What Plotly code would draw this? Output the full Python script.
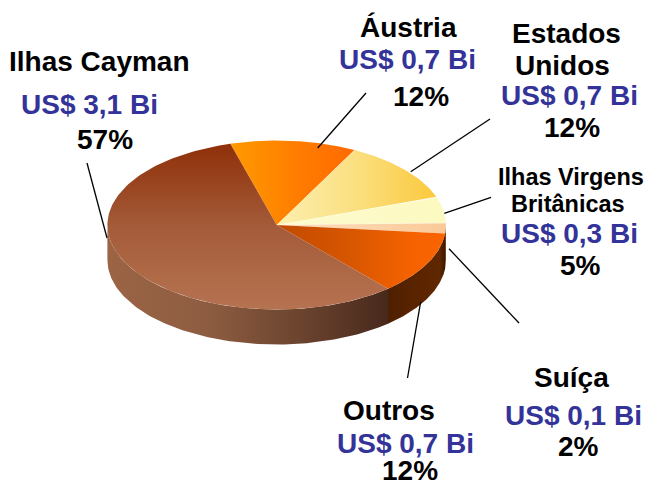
import numpy as np
import plotly.graph_objects as go

# --- data ---
names = ["Áustria", "Estados Unidos", "Ilhas Virgens Britânicas", "Suíça", "Outros", "Ilhas Cayman"]
amounts = ["US$ 0,7 Bi", "US$ 0,7 Bi", "US$ 0,3 Bi", "US$ 0,1 Bi", "US$ 0,7 Bi", "US$ 3,1 Bi"]
percents = [12, 12, 5, 2, 12, 57]

top_scales = [
    ("horizontal", [[0, "#FF9A00"], [0.55, "#FF7C00"], [1, "#FF6A00"]]),
    ("horizontal", [[0, "#FCEFB0"], [0.5, "#FBDF80"], [1, "#FBC93C"]]),
    ("horizontal", [[0, "#FDFBD0"], [1, "#FCF9C0"]]),
    ("horizontal", [[0, "#FDE0C0"], [1, "#FBC998"]]),
    ("horizontal", [[0, "#C24A00"], [0.4, "#D55500"], [0.8, "#F56200"], [1, "#FA6400"]]),
    ("vertical", [[0, "#8F3009"], [0.5, "#A45B39"], [1, "#B67351"]]),
]
side_scales = [None, None,
    ("horizontal", [[0, "#6A2C00"], [1, "#6A2C00"]]),
    ("horizontal", [[0, "#6A2C00"], [1, "#6A2C00"]]),
    ("horizontal", [[0, "#4E2000"], [0.5, "#5A2400"], [0.9, "#602800"], [1, "#3C1800"]]),
    ("horizontal", [[0, "#9B6445"], [0.35, "#8E5D41"], [0.7, "#6A432E"], [1, "#47291C"]]),
]

# --- pie geometry ---
CX, CY, RX, RY, DEPTH = 276.7, 225.0, 169.3, 84.5, 35.0
START = -15.9


def ell(deg, dy=0.0):
    a = np.radians(deg)
    return CX + RX * np.sin(a), CY - RY * np.cos(a) + dy


fig = go.Figure()
edges = START + np.cumsum([0] + percents) * 3.6


def patch(x, y, scale):
    kind, cs = scale
    lo, hi = (min(x), max(x)) if kind == "horizontal" else (min(y), max(y))
    fig.add_trace(go.Scatter(
        x=x, y=y, mode="lines", line=dict(width=0), fill="toself",
        fillgradient=dict(type=kind, colorscale=cs, start=lo, stop=hi),
        hoverinfo="skip", showlegend=False))


# walls, only for the front half of the ellipse
for a0, a1, sc in zip(edges[:-1], edges[1:], side_scales):
    if sc is None:
        continue
    lo, hi = max(a0, 90), min(a1, 270)
    if hi <= lo:
        continue
    t = np.linspace(lo, hi, 120)
    x0, y0 = ell(t)
    x1, y1 = ell(t[::-1], DEPTH)
    patch(list(x0) + list(x1), list(y0) + list(y1), sc)

# top surface
for a0, a1, sc in zip(edges[:-1], edges[1:], top_scales):
    t = np.linspace(a0, a1, 160)
    x, y = ell(t)
    patch([CX] + list(x) + [CX], [CY] + list(y) + [CY], sc)

BIG, SMALL = 28, 23.5
BLACK, BLUE = "#000000", "#333399"
text_items = [
    (names[0], 408, 27, BIG, BLACK), (amounts[0], 407, 59, BIG, BLUE), (f"{percents[0]}%", 421, 96, BIG, BLACK),
    ("Estados", 566, 33, BIG, BLACK), ("Unidos", 562, 65, BIG, BLACK), (amounts[1], 569, 95, BIG, BLUE),
    (f"{percents[1]}%", 572, 127, BIG, BLACK),
    ("Ilhas Virgens", 571, 177, SMALL, BLACK), ("Britânicas", 568, 204, SMALL, BLACK),
    (amounts[2], 569, 233, BIG, BLUE), (f"{percents[2]}%", 580, 265, BIG, BLACK),
    (names[3], 571, 377, BIG, BLACK), (amounts[3], 573, 415, BIG, BLUE), (f"{percents[3]}%", 578, 446, BIG, BLACK),
    (names[4], 389, 410, BIG, BLACK), (amounts[4], 405, 443, BIG, BLUE), (f"{percents[4]}%", 410, 470, BIG, BLACK),
    (names[5], 99, 61, BIG, BLACK), (amounts[5], 89, 104, BIG, BLUE), (f"{percents[5]}%", 105, 139, BIG, BLACK),
]
for txt, x, y, size, col in text_items:
    fig.add_annotation(x=x, y=y, text=f"<b>{txt}</b>", showarrow=False, xanchor="center", yanchor="middle",
                       font=dict(family="Liberation Sans", size=size, color=col))

leaders = [
    (366, 93, 317.7, 148), (490, 119, 410.7, 171.7), (491, 197.3, 444.3, 213.3),
    (449, 248.7, 519, 323), (407.5, 378, 420.7, 301.7), (87, 163, 107, 238),
]
for x0, y0, x1, y1 in leaders:
    fig.add_shape(type="line", x0=x0, y0=y0, x1=x1, y1=y1, line=dict(color="black", width=1.3))

fig.update_layout(
    width=648, height=485, margin=dict(l=0, r=0, t=0, b=0),
    paper_bgcolor="white", plot_bgcolor="white", showlegend=False,
    xaxis=dict(range=[0, 648], visible=False, fixedrange=True),
    yaxis=dict(range=[485, 0], visible=False, fixedrange=True),
)
fig.write_html("out.html", config={"displayModeBar": False},
               post_script="document.body.style.margin='0';document.body.style.overflow='hidden';")
